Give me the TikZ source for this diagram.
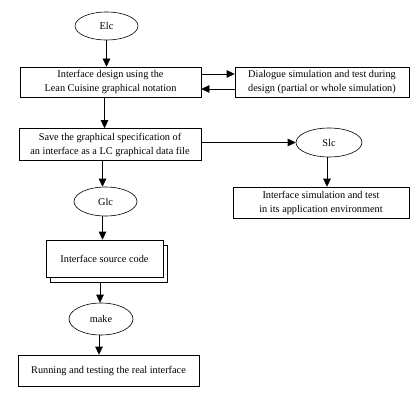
\documentclass[tikz,border=0pt]{standalone}
\usepackage{fontspec}
\setmainfont{Liberation Serif}
\usepackage{tikz}
\usetikzlibrary{shapes.geometric}
\usetikzlibrary{calc, arrows.meta}

\tikzset{
  stepbox/.style={draw, rectangle, align=center, font=\fontsize{10.3}{14}\selectfont, inner sep=0pt},
  oval/.style={draw, ellipse, inner sep=0pt, font=\fontsize{10.3}{12}\selectfont},
  flow/.style={-{Triangle[length=8pt,width=7.5pt]}}
}

\begin{document}
\begin{tikzpicture}[x=1pt,y=-1pt,line width=0.6pt]
      \useasboundingbox (0,0) rectangle (419,406);

      % start of the design
      \node[oval, minimum width=63pt, minimum height=28pt] (elc) at (106.5,26) {Elc};
      \node[stepbox, minimum width=181pt, minimum height=30pt] (design) at (110.5,82)
        {Interface design using the\\Lean Cuisine graphical notation};
      \node[stepbox, minimum width=174pt, minimum height=30pt] (dialogue) at (322,82)
        {Dialogue simulation and test during\\design (partial or whole simulation)};
      \node[stepbox, minimum width=182pt, minimum height=32pt] (save) at (110,144.5)
        {Save the graphical specification of\\an interface as a LC graphical data file};

      % simulation branch
      \node[oval, minimum width=66pt, minimum height=29pt] (slc) at (329,142.5) {Slc};
      \node[stepbox, minimum width=176pt, minimum height=31pt] (simtest) at (321,202.5)
        {Interface simulation and test\\in its application environment};

      % code branch
      \node[oval, minimum width=63pt, minimum height=29pt] (glc) at (105.5,201.5) {Glc};
      \node[stepbox, fill=white, minimum width=117pt, minimum height=37pt] (docback) at (108.5,263.5) {};
      \node[stepbox, fill=white, minimum width=117pt, minimum height=37pt] (source) at (104.5,258.5)
        {Interface source code};
      \node[oval, minimum width=64pt, minimum height=32pt] (make) at (101,319) {make};
      \node[stepbox, minimum width=181pt, minimum height=31pt] (running) at (108.5,370.5)
        {Running and testing the real interface};

      \draw[flow] (elc.south) -- (elc.south |- design.north);
      \draw[flow] ([yshift=8pt]design.east) -- ([yshift=8pt]dialogue.west);
      \draw[flow] ([yshift=-7pt]dialogue.west) -- ([yshift=-7pt]design.east);
      \draw[flow] ([xshift=-6pt]design.south) -- ([xshift=-6pt]design.south |- save.north);
      \draw[flow] (save.east |- slc.west) -- (slc.west);
      \draw[flow] ([xshift=-2pt]slc.south) -- ([xshift=-2pt]slc.south |- simtest.north);
      \draw[flow] ([xshift=-3pt]glc.north |- save.south) -- ([xshift=-3pt]glc.north);
      \draw[flow] ([xshift=-3pt]glc.south) -- ([xshift=-3pt]glc.south |- source.north);
      \draw[flow] ([xshift=-1pt]make.north |- docback.south) -- ([xshift=-1pt]make.north);
      \draw[flow] ([xshift=-2pt]make.south) -- ([xshift=-2pt]make.south |- running.north);
\end{tikzpicture}
\end{document}
